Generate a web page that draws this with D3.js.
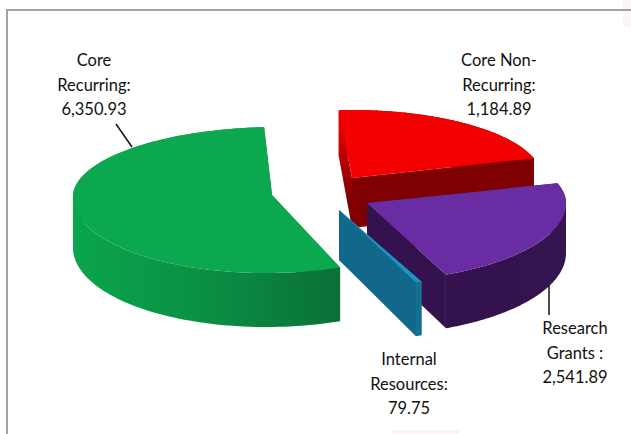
<!DOCTYPE html>
<html>
<head>
<meta charset="utf-8">
<script src="https://cdn.jsdelivr.net/npm/d3@7/dist/d3.min.js"></script>
<style>
  html, body { margin: 0; padding: 0; background: #fff; }
  text { font-family: Lato, "Open Sans", sans-serif; font-size: 16.5px; fill: #111; text-anchor: middle; }
</style>
</head>
<body>
<svg id="chart" width="631" height="434"></svg>
<script>
// Budget split by funding source, clockwise from the back of the pie.
const categories = ["Core Non-Recurring", "Research Grants", "Internal Resources", "Core Recurring"];
const values = [1184.89, 2541.89, 79.75, 6350.93];
const labelLines = [
  ["Core Non-", "Recurring:", "1,184.89"],
  ["Research", "Grants :", "2,541.89"],
  ["Internal", "Resources:", "79.75"],
  ["Core", "Recurring:", "6,350.93"]
];

// Exploded slice geometry and look, one entry per category.
const sliceStyle = [
  { apex: [352, 178], rx: 190, shear: 0, top: "#f40000", startWall: ["#e80000", "#7e0000"], endWall: ["#7e0000", "#7e0000"], rim: ["#7e0000", "#7e0000", "#7e0000"] },
  { apex: [367, 203], rx: 199, shear: 0, top: "#6a2ca2", startWall: ["#33124e", "#33124e"], endWall: ["#33124e", "#33124e"], rim: ["#33124e", "#33124e", "#361450"] },
  { apex: [339, 210], rx: 208, shear: 0, top: "#1f93c4", startWall: ["#12688a", "#12688a"], endWall: ["#12688a", "#12688a"], rim: ["#14708f", "#14708f", "#14708f"] },
  { apex: [272, 195], rx: 199, shear: 6, top: "#0ba84f", startWall: ["#0a8a42", "#0a8a42"], endWall: ["#0a8a42", "#0a8a42"], rim: ["#0aa54d", "#0a8f44", "#0b7036"] }
];
const labelPos = [[499, 60], [575, 328], [409, 359], [94, 60]];
const leaders = [null, [[549, 285], [549, 315]], null, [[116, 124], [132, 147]]];

// View parameters: ellipse radii at the far and near side, and the perspective
// warp that enlarges the side of the disc nearest the viewer.
const ryBack = 68, ryFront = 78;
const warp = 2, warpCentre = 4 * Math.PI / 180;
const pieStart = -4 * Math.PI / 180;

const svg = d3.select("#chart");
const defs = svg.append("defs");

const arcs = d3.pie().sort(null).startAngle(pieStart).endAngle(pieStart + 2 * Math.PI)(values);

const view = t => warpCentre + 2 * Math.atan2(warp * Math.sin(t / 2), Math.cos(t / 2));
const depth = a => 50 - 4 * Math.cos(a);
const rim = (s, a, drop) => [
  s.apex[0] + s.rx * Math.sin(a) + s.shear * Math.cos(a),
  s.apex[1] - (Math.cos(a) > 0 ? ryBack : ryFront) * Math.cos(a) + drop
];
const line = d3.line();

// Faint background patches along the page edges.
svg.append("rect").attr("x", 623).attr("y", 0).attr("width", 8).attr("height", 27).attr("fill", "#faf5f5");
svg.append("rect").attr("x", 392).attr("y", 430).attr("width", 67).attr("height", 4).attr("fill", "#fcf4f4");

// Frame around the plot area.
svg.append("path")
  .attr("d", line([[7, 434], [7, 10], [631, 10]]))
  .attr("fill", "none").attr("stroke", "#a3a3a3").attr("stroke-width", 2);

function gradient(id, stops, x1, y1, x2, y2) {
  const grad = defs.append("linearGradient").attr("id", id)
    .attr("gradientUnits", "userSpaceOnUse")
    .attr("x1", x1).attr("y1", y1).attr("x2", x2).attr("y2", y2);
  stops.forEach((c, j) => grad.append("stop")
    .attr("offset", j / (stops.length - 1)).attr("stop-color", c));
  return `url(#${id})`;
}

const drawOrder = [3, 0, 1, 2];
drawOrder.forEach(i => {
  const s = sliceStyle[i];
  const a0 = view(arcs[i].startAngle), a1 = view(arcs[i].endAngle);
  const sweep = d3.scaleLinear().domain([0, 120]).range([a0, a1]);
  const steps = d3.range(121).map(sweep);
  const g = svg.append("g").attr("class", "slice").attr("data-name", categories[i]);

  const xs = steps.map(a => rim(s, a, 0)[0]);
  const rimFill = gradient("rim" + i, s.rim, d3.min(xs), 0, d3.max(xs), 0);

  // Rim bands, split where the edge turns back on itself so each band fills cleanly.
  const band = part => {
    if (part.length < 2) return;
    const up = part.map(a => rim(s, a, 0));
    const low = part.map(a => rim(s, a, depth(a))).reverse();
    g.append("path").attr("d", line(up.concat(low)) + "Z").attr("fill", rimFill);
  };
  const wall = (a, colors, id) => {
    const o = rim(s, a, 0), d = depth(a);
    const fill = gradient(id + i, colors, 0, s.apex[1] - 50, 0, s.apex[1] + 20);
    g.append("path")
      .attr("d", line([s.apex, o, [o[0], o[1] + d], [s.apex[0], s.apex[1] + 50]]) + "Z")
      .attr("fill", fill);
  };

  // Painter's order: far rim, cut faces, near rim, then the top face.
  band(steps.filter(a => Math.cos(a) > 0 && Math.sin(a) >= 0));
  band(steps.filter(a => Math.cos(a) > 0 && Math.sin(a) < 0));
  wall(a0, s.startWall, "start");
  wall(a1, s.endWall, "end");
  band(steps.filter(a => Math.cos(a) <= 0));
  g.append("path")
    .attr("d", line([s.apex].concat(steps.map(a => rim(s, a, 0)))) + "Z")
    .attr("fill", s.top);
});

// Leader lines and multi-line data labels.
leaders.forEach(l => {
  if (l) svg.append("path").attr("d", line(l)).attr("stroke", "#111").attr("stroke-width", 1.5).attr("fill", "none");
});
labelLines.forEach((lines, i) => {
  const t = svg.append("text").attr("x", labelPos[i][0]).attr("y", labelPos[i][1] + 6);
  lines.forEach((txt, j) => {
    t.append("tspan").attr("x", labelPos[i][0]).attr("dy", j ? 24.7 : 0).text(txt);
  });
});
</script>
</body>
</html>
